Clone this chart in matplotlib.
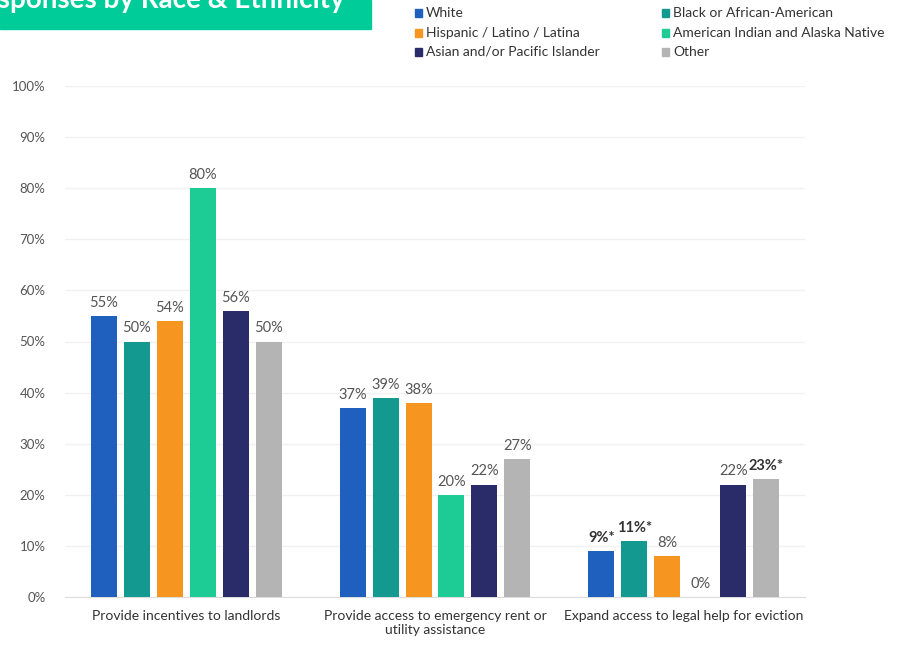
import numpy as np
import matplotlib
matplotlib.use("Agg")
import matplotlib.pyplot as plt
from matplotlib.patches import Rectangle

plt.rcParams['font.family'] = ['Lato', 'DejaVu Sans']

# data
categories = ["Provide incentives to landlords",
              "Provide access to emergency rent or\nutility assistance",
              "Expand access to legal help for eviction"]
groups = ["White", "Black or African-American", "Hispanic / Latino / Latina",
          "American Indian and Alaska Native", "Asian and/or Pacific Islander", "Other"]
values = {
    "White": [55, 37, 9],
    "Black or African-American": [50, 39, 11],
    "Hispanic / Latino / Latina": [54, 38, 8],
    "American Indian and Alaska Native": [80, 20, 0],
    "Asian and/or Pacific Islander": [56, 22, 22],
    "Other": [50, 27, 23],
}
starred = {
    "White": [False, False, True],
    "Black or African-American": [False, False, True],
    "Hispanic / Latino / Latina": [False, False, False],
    "American Indian and Alaska Native": [False, False, False],
    "Asian and/or Pacific Islander": [False, False, False],
    "Other": [False, False, True],
}
colors = ["#1f5fbd", "#13998f", "#f6951f", "#1dcc95", "#2a2c6a", "#b4b4b4"]

fig = plt.figure(figsize=(8.98, 6.45), dpi=100)
ax = fig.add_axes([65/898, 48/645, 740/898, 511/645])

step = 33/249
width = 26/249
x = np.arange(len(categories))
for i, g in enumerate(groups):
    pos = x + (i - 2.5) * step
    ax.bar(pos, values[g], width=width, color=colors[i], zorder=3)
    for p, v, s in zip(pos, values[g], starred[g]):
        lab = f"{v}%*" if s else f"{v}%"
        ax.text(p, v + 1.2, lab, ha='center', va='bottom', fontsize=10.5,
                color='#333333' if s else '#555555',
                fontweight='bold' if s else 'normal', zorder=4)

ax.set_xlim(-0.486, 2.486)
ax.set_ylim(0, 100)
ax.set_yticks(np.arange(0, 101, 10))
ax.set_yticklabels([f"{t}%" for t in range(0, 101, 10)], fontsize=9.5, color='#555555')
ax.set_xticks(x)
ax.set_xticklabels(categories, fontsize=10, color='#333333', linespacing=1.2)
ax.tick_params(axis='both', length=0)
ax.tick_params(axis='y', pad=14)
ax.tick_params(axis='x', pad=9)
ax.grid(axis='y', color='#f1f1f1', linewidth=1, zorder=0)
for sp in ['top', 'right', 'left']:
    ax.spines[sp].set_visible(False)
ax.spines['bottom'].set_color('#dddddd')

# title banner (cropped at top and left, as in the source image)
fig.patches.append(Rectangle((0, 1 - 29/645), 371/898, 29/645, transform=fig.transFigure,
                             color='#00cc99', zorder=0))
fig.text(345/898, 1 - 8/645, "Responses by Race & Ethnicity", ha='right', va='baseline',
         fontsize=20, fontweight='bold', color='white')

# legend
leg_x = [415, 662]
leg_y = [13, 33, 52]
for i, g in enumerate(groups):
    cx = leg_x[i % 2]
    cy = leg_y[i // 2]
    fig.patches.append(Rectangle((cx/898, 1 - (cy + 3.5)/645), 7/898, 7/645,
                                 transform=fig.transFigure, color=colors[i]))
    fig.text((cx + 11)/898, 1 - cy/645, g, ha='left', va='center', fontsize=10, color='#333333')

fig.savefig("out.png", dpi=100)
